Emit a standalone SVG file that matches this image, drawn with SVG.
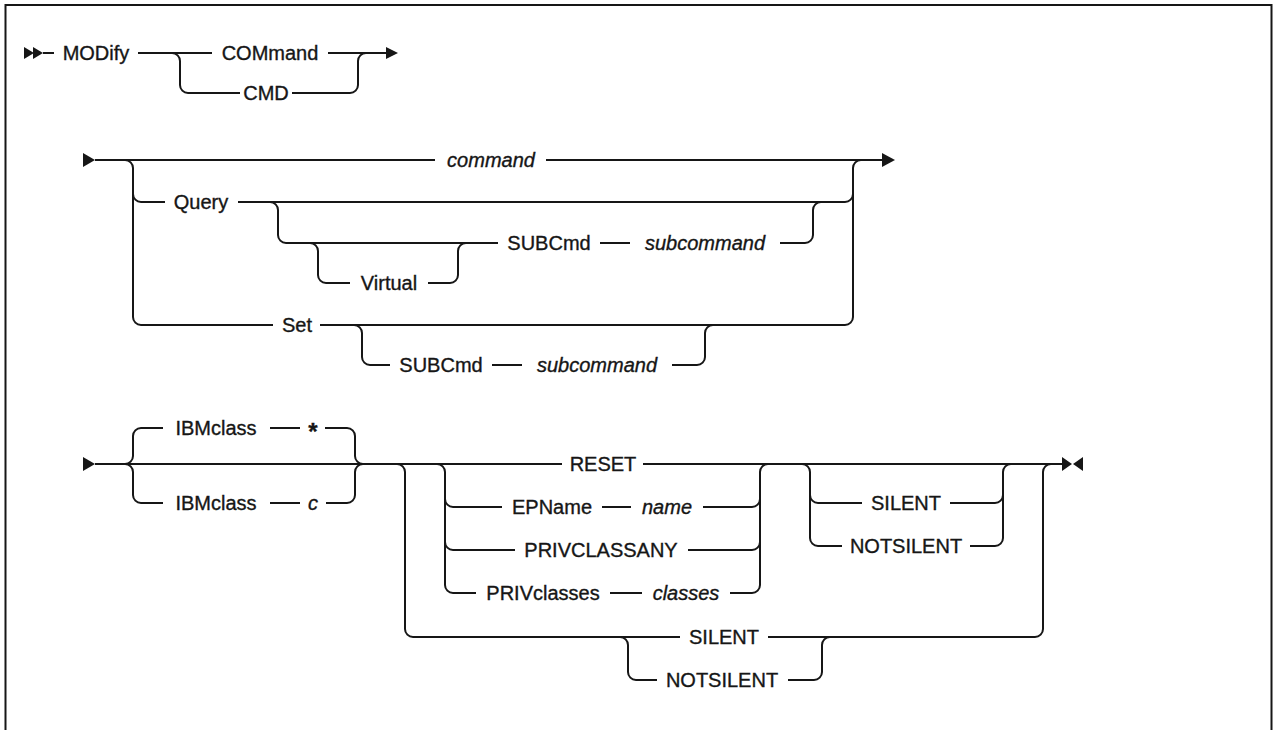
<svg xmlns="http://www.w3.org/2000/svg" width="1273" height="730" viewBox="0 0 1273 730">
<style>
.t{font-family:"Liberation Sans",Arial,sans-serif;font-size:20px;fill:#161616;stroke:#161616;stroke-width:0.35;text-anchor:middle}
.i{font-style:italic}
.s{font-size:24px;font-weight:bold}
.c{fill:none;stroke:#161616;stroke-width:2}
.a{fill:#161616}
</style>
<rect width="1273" height="730" fill="#fff"/>
<path d="M5.5 730V5H1271.5V730" fill="none" stroke="#161616" stroke-width="2"/>
<g id="connectors">
<!-- section 1 -->
<polygon class="a" points="24,47 34,53 24,59"/>
<polygon class="a" points="33,47 43,53 33,59"/>
<path class="c" d="M43 53H54"/>
<path class="c" d="M138 53H212M328 53H388"/>
<polygon class="a" points="386,47 398,53 386,59"/>
<path class="c" d="M172 53A8 8 0 0 1 180 61V85A8 8 0 0 0 188 93H240M292 93H350A8 8 0 0 0 358 85V61A8 8 0 0 1 366 53"/>
<!-- section 2 -->
<polygon class="a" points="83,153 95,160 83,167"/>
<path class="c" d="M95 160H435M546 160H883"/>
<polygon class="a" points="882,153 895,160 882,167"/>
<path class="c" d="M125 160A8 8 0 0 1 133 168V317A8 8 0 0 0 141 325H273M320 325H845A8 8 0 0 0 853 317V168A8 8 0 0 1 861 160"/>
<path class="c" d="M133 194A8 8 0 0 0 141 202H165M238 202H845A8 8 0 0 0 853 194"/>
<path class="c" d="M270 202A8 8 0 0 1 278 210V235A8 8 0 0 0 286 243H498M600 243H630M780 243H805A8 8 0 0 0 813 235V210A8 8 0 0 1 821 202"/>
<path class="c" d="M310 243A8 8 0 0 1 318 251V275A8 8 0 0 0 326 283H350M428 283H450A8 8 0 0 0 458 275V251A8 8 0 0 1 466 243"/>
<path class="c" d="M354 325A8 8 0 0 1 362 333V357A8 8 0 0 0 370 365H390M492 365H522M672 365H697A8 8 0 0 0 705 357V333A8 8 0 0 1 713 325"/>
<!-- section 3 -->
<polygon class="a" points="83,457 95,464 83,471"/>
<path class="c" d="M95 464H562M643 464H1063"/>
<polygon class="a" points="1062,457 1072,464 1062,471"/>
<polygon class="a" points="1083,457 1073,464 1083,471"/>
<path class="c" d="M125 464A8 8 0 0 0 133 456V436A8 8 0 0 1 141 428H163M270 428H300M325 428H347A8 8 0 0 1 355 436V456A8 8 0 0 0 363 464"/>
<path class="c" d="M125 464A8 8 0 0 1 133 472V495A8 8 0 0 0 141 503H163M270 503H300M326 503H347A8 8 0 0 0 355 495V472A8 8 0 0 1 363 464"/>
<path class="c" d="M397 464A8 8 0 0 1 405 472V629A8 8 0 0 0 413 637H680M768 637H1035A8 8 0 0 0 1043 629V472A8 8 0 0 1 1051 464"/>
<path class="c" d="M620 637A8 8 0 0 1 628 645V672A8 8 0 0 0 636 680H657M788 680H814A8 8 0 0 0 822 672V645A8 8 0 0 1 830 637"/>
<path class="c" d="M437 464A8 8 0 0 1 445 472V585A8 8 0 0 0 453 593H476M610 593H642M730 593H752A8 8 0 0 0 760 585V472A8 8 0 0 1 768 464"/>
<path class="c" d="M445 499A8 8 0 0 0 453 507H502M602 507H631M703 507H752A8 8 0 0 0 760 499"/>
<path class="c" d="M445 542A8 8 0 0 0 453 550H515M688 550H752A8 8 0 0 0 760 542"/>
<path class="c" d="M802 464A8 8 0 0 1 810 472V538A8 8 0 0 0 818 546H842M970 546H995A8 8 0 0 0 1003 538V472A8 8 0 0 1 1011 464"/>
<path class="c" d="M810 495A8 8 0 0 0 818 503H862M950 503H995A8 8 0 0 0 1003 495"/>
</g>
<g id="n-modify"><text class="t" x="96" y="60">MODify</text></g>
<g id="n-command-kw"><text class="t" x="270" y="60">COMmand</text></g>
<g id="n-cmd"><text class="t" x="266" y="100">CMD</text></g>
<g id="n-command-var"><text class="t i" x="491" y="167">command</text></g>
<g id="n-query"><text class="t" x="201" y="209">Query</text></g>
<g id="n-virtual"><text class="t" x="389" y="290">Virtual</text></g>
<g id="n-q-subcmd"><text class="t" x="549" y="250">SUBCmd</text></g>
<g id="n-q-subcommand"><text class="t i" x="705" y="250">subcommand</text></g>
<g id="n-set"><text class="t" x="297" y="332">Set</text></g>
<g id="n-s-subcmd"><text class="t" x="441" y="372">SUBCmd</text></g>
<g id="n-s-subcommand"><text class="t i" x="597" y="372">subcommand</text></g>
<g id="n-ibmclass-star"><text class="t" x="216" y="435">IBMclass</text><text class="t s" x="313" y="440">*</text></g>
<g id="n-ibmclass-c"><text class="t" x="216" y="510">IBMclass</text><text class="t i" x="313" y="510">c</text></g>
<g id="n-reset"><text class="t" x="603" y="471">RESET</text></g>
<g id="n-epname"><text class="t" x="552" y="514">EPName</text><text class="t i" x="667" y="514">name</text></g>
<g id="n-privclassany"><text class="t" x="601" y="557">PRIVCLASSANY</text></g>
<g id="n-privclasses"><text class="t" x="543" y="600">PRIVclasses</text><text class="t i" x="686" y="600">classes</text></g>
<g id="n-silent1"><text class="t" x="906" y="510">SILENT</text></g>
<g id="n-notsilent1"><text class="t" x="906" y="553">NOTSILENT</text></g>
<g id="n-silent2"><text class="t" x="724" y="644">SILENT</text></g>
<g id="n-notsilent2"><text class="t" x="722" y="687">NOTSILENT</text></g>
</svg>
